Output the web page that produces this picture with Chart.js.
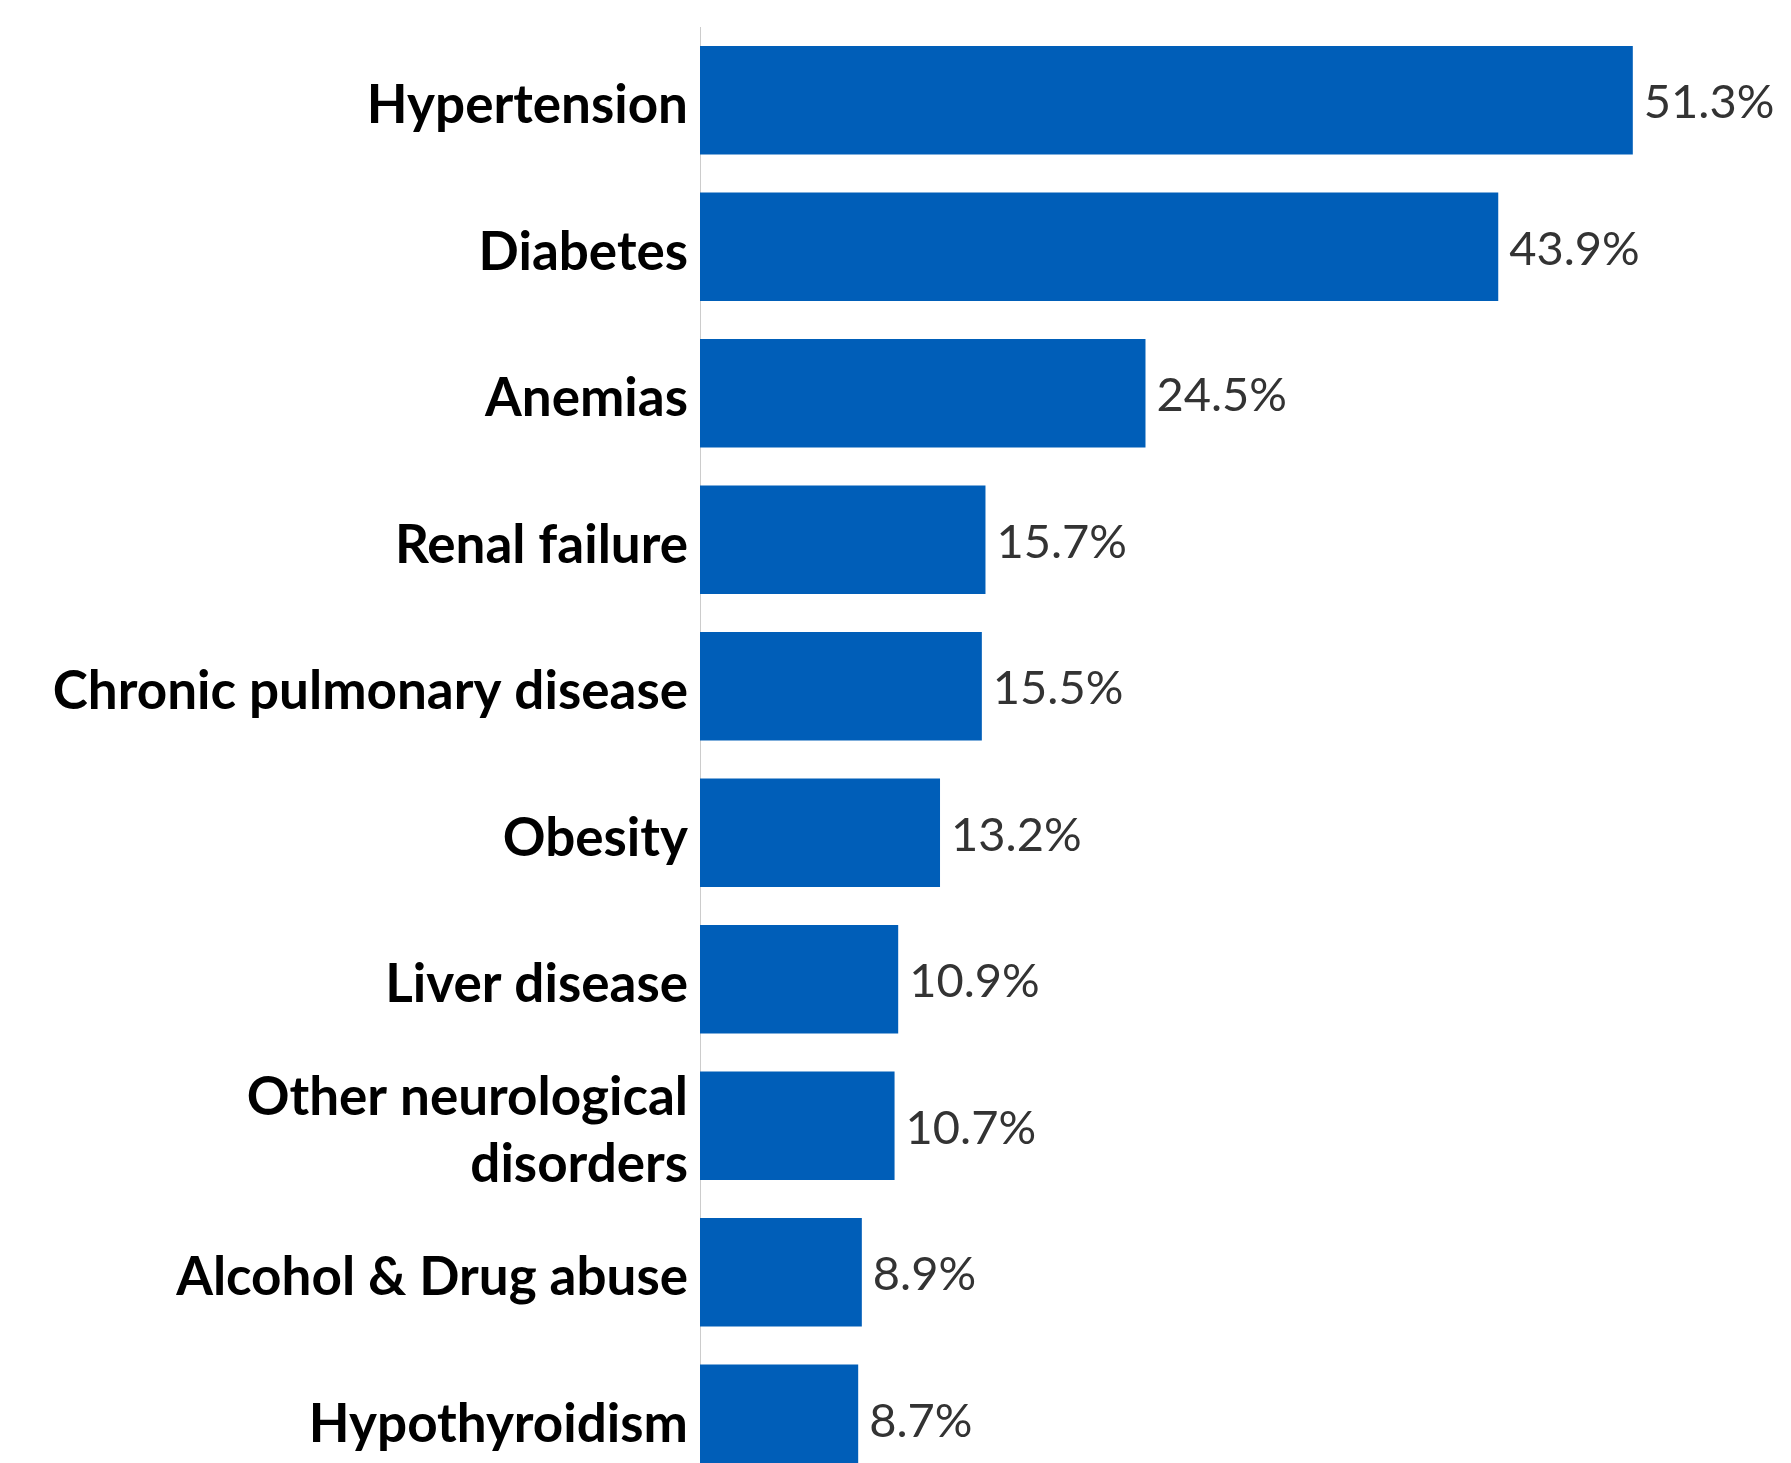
<!DOCTYPE html>
<html>
<head>
<meta charset="utf-8">
<script src="https://cdn.jsdelivr.net/npm/chart.js@4/dist/chart.umd.min.js"></script>
<style>
html, body { margin: 0; padding: 0; overflow: hidden; background: #fff; width: 1791px; height: 1463px; }
canvas { display: block; }
</style>
</head>
<body>
<canvas id="c" width="1791" height="1492"></canvas>
<script>
const categories = [
  "Hypertension",
  "Diabetes",
  "Anemias",
  "Renal failure",
  "Chronic pulmonary disease",
  "Obesity",
  "Liver disease",
  ["Other neurological", "disorders"],
  "Alcohol & Drug abuse",
  "Hypothyroidism"
];
const values = [51.3, 43.9, 24.5, 15.7, 15.5, 13.2, 10.9, 10.7, 8.9, 8.7];
const valueLabels = ["51.3%", "43.9%", "24.5%", "15.7%", "15.5%", "13.2%", "10.9%", "10.7%", "8.9%", "8.7%"];

const valueLabelPlugin = {
  id: 'valueLabels',
  afterDatasetsDraw(chart) {
    const ctx = chart.ctx;
    const meta = chart.getDatasetMeta(0);
    ctx.save();
    ctx.font = '400 47px Lato';
    ctx.fillStyle = '#333333';
    ctx.textAlign = 'left';
    ctx.textBaseline = 'middle';
    meta.data.forEach((bar, i) => {
      ctx.fillText(valueLabels[i], bar.x + 11, bar.y + 3);
    });
    ctx.restore();
  }
};

new Chart(document.getElementById('c'), {
  type: 'bar',
  data: {
    labels: categories,
    datasets: [{
      data: values,
      backgroundColor: '#005EB8',
      borderWidth: 0,
      categoryPercentage: 1,
      barPercentage: 0.74
    }]
  },
  options: {
    indexAxis: 'y',
    responsive: false,
    animation: false,
    layout: { padding: { top: 27, right: 0, bottom: 0, left: 0 } },
    plugins: { legend: { display: false }, tooltip: { enabled: false } },
    scales: {
      x: {
        display: false,
        min: 0,
        max: 60
      },
      y: {
        afterFit(scale) {
          scale.width = 700;
          scale.paddingTop = 0;
          scale.paddingBottom = 0;
        },
        grid: { display: false, drawTicks: false },
        border: { display: true, color: '#cccccc', width: 1 },
        ticks: {
          padding: 12,
          labelOffset: 6,
          color: '#000000',
          font: { family: 'Lato', weight: 'bold', size: 53, lineHeight: 1.26 }
        }
      }
    }
  },
  plugins: [valueLabelPlugin]
});
</script>
</body>
</html>
